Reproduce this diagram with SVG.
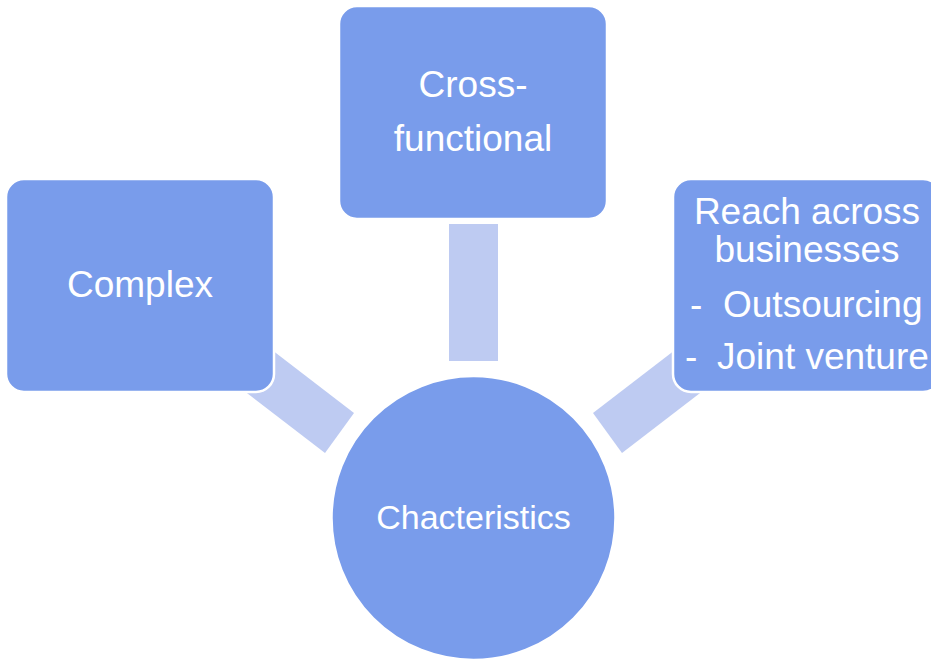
<svg xmlns="http://www.w3.org/2000/svg" width="931" height="660" viewBox="0 0 931 660">
<style>
.node{fill:#799CEB;stroke:#FFFFFF;stroke-width:2.5}
.conn{fill:#BECBF2;stroke:none}
.t{font-family:"Liberation Sans",Arial,sans-serif;fill:#FFFFFF;font-size:37px}
.c{text-anchor:middle}
</style>
<rect width="931" height="660" fill="#FFFFFF"/>
<g id="connectors">
<rect class="conn" x="449" y="224" width="49" height="137"/>
<polygon class="conn" points="354,413 325,453 230,380 259,340"/>
<polygon class="conn" points="593,413 622,453 717,380 688,340"/>
</g>
<g id="node-center">
<circle class="node" cx="473.5" cy="518" r="142"/>
<text class="t c" x="473.5" y="529" style="font-size:34px">Chacteristics</text>
</g>
<g id="node-complex">
<rect class="node" x="6" y="179" width="268" height="213" rx="18"/>
<text class="t c" x="140" y="297">Complex</text>
</g>
<g id="node-cross">
<rect class="node" x="339" y="6" width="268" height="213" rx="18"/>
<text class="t c" x="473" y="97">Cross-</text>
<text class="t c" x="473" y="151">functional</text>
</g>
<g id="node-reach">
<rect class="node" x="673" y="179" width="268" height="213" rx="18"/>
<text class="t c" x="807" y="224">Reach across</text>
<text class="t c" x="807" y="262">businesses</text>
<text class="t" x="690" y="317">-</text>
<text class="t" x="723" y="317">Outsourcing</text>
<text class="t" x="685" y="369">-</text>
<text class="t" x="717" y="369">Joint venture</text>
</g>
</svg>
